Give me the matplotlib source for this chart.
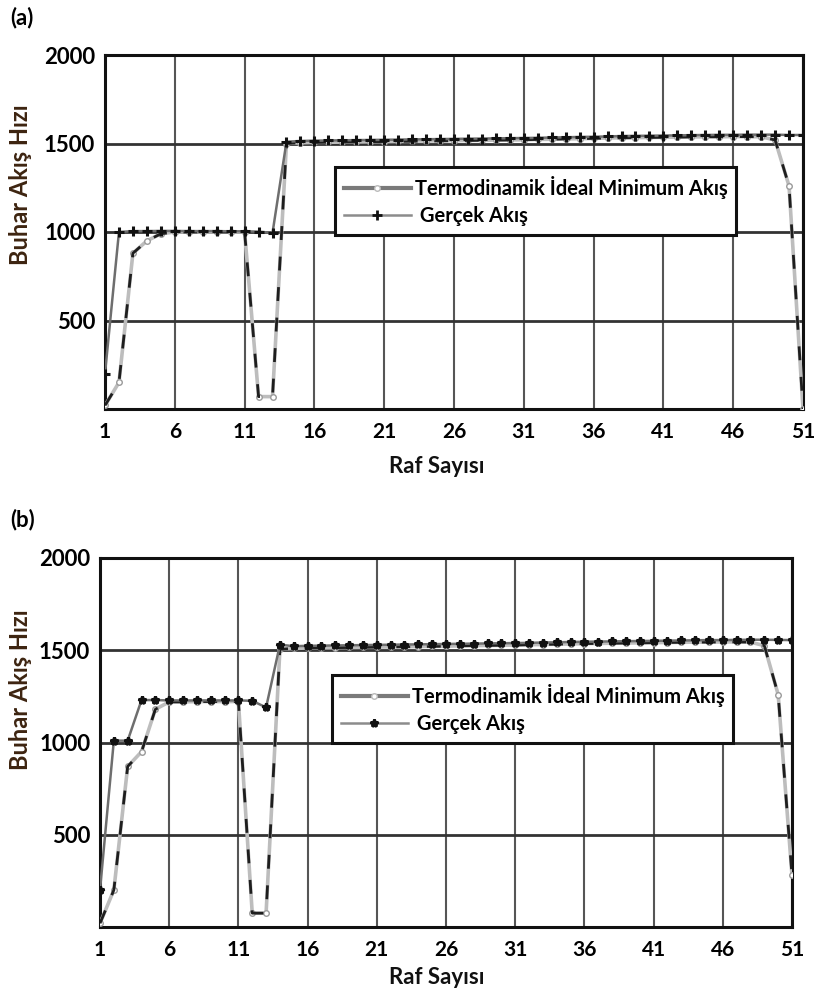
import matplotlib
matplotlib.use("Agg")
import matplotlib.pyplot as plt
from matplotlib.lines import Line2D

plt.rcParams['font.family'] = ['Lato', 'DejaVu Sans']

stages = list(range(1, 52))
xticks = list(range(1, 52, 5))
yticks = [500, 1000, 1500, 2000]

# (a) vapour flow profiles
min_a = [20, 150, 880, 950, 990, 1000, 1000, 1000, 1000, 1000, 1000, 70, 70, 1500,
         1504, 1506, 1507, 1508, 1509, 1510, 1511, 1512, 1513, 1514, 1515, 1516, 1517,
         1518, 1519, 1520, 1521, 1523, 1524, 1526, 1527, 1529, 1531, 1532, 1533, 1534,
         1535, 1536, 1537, 1538, 1538, 1539, 1539, 1538, 1520, 1260, 0]
act_a = [200, 1000, 1005, 1005, 1006, 1006, 1005, 1005, 1005, 1004, 1004, 1002, 995, 1510,
         1514, 1516, 1517, 1518, 1519, 1520, 1521, 1522, 1523, 1524, 1525, 1526, 1527,
         1528, 1529, 1530, 1531, 1532, 1534, 1535, 1537, 1538, 1540, 1542, 1543, 1544,
         1545, 1546, 1547, 1548, 1549, 1549, 1550, 1550, 1550, 1548, 1548]

# (b) vapour flow profiles
min_b = [20, 200, 870, 950, 1180, 1220, 1220, 1222, 1222, 1222, 1222, 75, 75, 1505,
         1510, 1512, 1513, 1514, 1515, 1516, 1517, 1518, 1519, 1520, 1521, 1522, 1524,
         1525, 1526, 1527, 1528, 1530, 1531, 1533, 1534, 1536, 1537, 1538, 1539, 1540,
         1541, 1542, 1543, 1544, 1544, 1545, 1545, 1544, 1525, 1260, 280]
act_b = [200, 1010, 1010, 1230, 1230, 1228, 1228, 1228, 1228, 1228, 1228, 1226, 1190, 1530,
         1522, 1524, 1525, 1526, 1527, 1528, 1529, 1530, 1531, 1532, 1533, 1534, 1535,
         1536, 1537, 1538, 1539, 1540, 1542, 1543, 1545, 1546, 1547, 1548, 1549, 1550,
         1551, 1552, 1553, 1554, 1555, 1555, 1556, 1557, 1557, 1556, 1555]

lbl_min = 'Termodinamik İdeal Minimum Akış'
lbl_act = ' Gerçek Akış'

fig = plt.figure(figsize=(8.19, 10.01), dpi=100)

def panel(rect, ymin, yact, act_marker, act_ms, legend_anchor, ylab_xy, xlab_xy):
    ax = fig.add_axes(rect)
    ax.set_xlim(1, 51)
    ax.set_ylim(0, 2000)
    ax.set_xticks(xticks)
    ax.set_yticks(yticks)
    ax.tick_params(axis='x', length=0, labelsize=15, pad=9)
    ax.tick_params(axis='y', length=0, labelsize=16, pad=7)
    for t in ax.get_xticklabels() + ax.get_yticklabels():
        t.set_fontweight('bold')
    for x in xticks:
        ax.axvline(x, color='#555555', lw=1.5, zorder=1)
    for y in [500, 1000, 1500]:
        ax.axhline(y, color='#333333', lw=2.0, zorder=1)
    for s in ax.spines.values():
        s.set_linewidth(2.2)
        s.set_color('#111111')

    # ideal minimum flow: light line with dark dashes on top
    ax.plot(stages, ymin, color='#bdbdbd', lw=2.6, zorder=3,
            marker='o', ms=4, mfc='white', mec='#9a9a9a')
    ax.plot(stages, ymin, color='#1e1e1e', lw=2.0, dashes=(5, 6), zorder=4)
    # actual flow
    ax.plot(stages, yact, color='#6e6e6e', lw=1.8, zorder=5,
            marker=act_marker, ms=act_ms, mew=2.2, mfc='#111111', mec='#111111')

    handles = [Line2D([], [], color='#7a7a7a', lw=3, marker='o', ms=4,
                      mfc='white', mec='#bbbbbb'),
               Line2D([], [], color='#8c8c8c', lw=1.8, marker=act_marker, ms=act_ms,
                      mew=2, mfc='#111111', mec='#111111')]
    leg = ax.legend(handles, [lbl_min, lbl_act], loc='upper left',
                    bbox_to_anchor=legend_anchor, borderaxespad=0,
                    fancybox=False, framealpha=1, edgecolor='#111111',
                    handlelength=3.3, handletextpad=0.2, borderpad=0.45,
                    labelspacing=0.35,
                    prop={'size': 14.5, 'weight': 'bold'})
    leg.get_frame().set_linewidth(2.2)
    leg.set_zorder(10)

    ax.set_ylabel('Buhar Akış Hızı', fontsize=17, fontweight='bold', color='#3d2410',
                  va='center')
    ax.yaxis.set_label_coords(*ylab_xy)
    ax.set_xlabel('Raf Sayısı', fontsize=16, fontweight='bold', color='#111111')
    ax.xaxis.set_label_coords(*xlab_xy)
    return ax

W, H = 819, 1001

def rect(l, t, r, b):
    return [l / W, 1 - b / H, (r - l) / W, (b - t) / H]

panel(rect(105, 55, 803, 409), min_a, act_a, '+', 7,
      ((335 - 105) / 698, 1 - (167 - 55) / 354),
      ((21 - 105) / 698, (409 - 185) / 354),
      ((437 - 105) / 698, (409 - 456) / 354))
panel(rect(100, 558, 792, 927), min_b, act_b, '*', 6,
      ((332 - 100) / 692, 1 - (675 - 558) / 369),
      ((21 - 100) / 692, (927 - 690) / 369),
      ((437 - 100) / 692, (927 - 967) / 369))

fig.text(10 / W, 1 - 18 / H, '(a)', fontsize=16, fontweight='bold', va='center')
fig.text(10 / W, 1 - 520 / H, '(b)', fontsize=16, fontweight='bold', va='center')

fig.savefig('out.png', dpi=100)
